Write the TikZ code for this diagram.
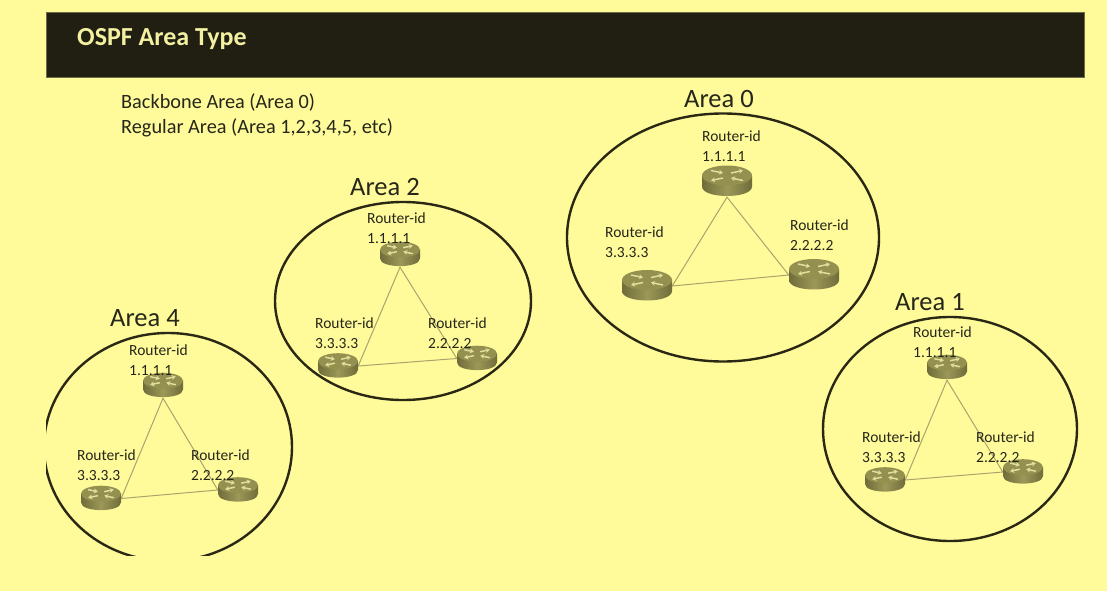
\documentclass[tikz,border=0pt]{standalone}
\usepackage{fontspec}
\setmainfont{Carlito}
\usetikzlibrary{arrows.meta}
\definecolor{bg}{HTML}{FFFB9A}
\definecolor{bar}{HTML}{201F12}
\definecolor{barline}{HTML}{6E6C44}
\definecolor{titletxt}{HTML}{F4F0A2}
\definecolor{txt}{HTML}{26261A}
\definecolor{ring}{HTML}{2A2814}
\definecolor{link}{HTML}{A8A46C}
\definecolor{rtop}{HTML}{939050}
\definecolor{rside}{HTML}{6F6C3A}
\definecolor{rmid}{HTML}{9C9858}
\definecolor{rmark}{HTML}{E2DE9C}
\tikzset{
  rtbig/.style={inner sep=0pt, minimum width=50pt, minimum height=31pt},
  rtsmall/.style={inner sep=0pt, minimum width=40pt, minimum height=25pt},
  area/.style={draw=ring, line width=2.4pt},
  arealabel/.style={font=\fontsize{26.5}{30}\selectfont, text=txt, anchor=west, inner sep=0pt},
  rid/.style={font=\fontsize{15.5}{20}\selectfont, text=txt, anchor=west, align=left, inner sep=0pt},
  linkline/.style={draw=link, line width=1pt},
  rtarrow/.style={rmark, line width=1.5pt, -{Stealth[length=4pt,width=5pt]}},
  router/.pic={
    \path[left color=rside, right color=rside, middle color=rmid]
      (-25,-6) -- (-25,5) .. controls (-25,17.67) and (25,17.67) .. (25,5) -- (25,-6) -- cycle;
    \fill[rtop] (0,-6) ellipse [x radius=25, y radius=10];
    \draw[rtarrow] (-16,-11) -- (-4,-8.5);
    \draw[rtarrow] (-4,-3.5) -- (-16,-1);
    \draw[rtarrow] (4,-8.5) -- (16,-11);
    \draw[rtarrow] (16,-1) -- (4,-3.5);
  }
}
\begin{document}
\begin{tikzpicture}[x=1pt,y=-1pt]
\useasboundingbox (0,0) rectangle (1107,591);
\fill[bg] (0,0) rectangle (1107,591);
% title bar
\node[draw=barline, fill=bar, line width=0.8pt, minimum width=1038pt, minimum height=65pt, inner sep=0pt, anchor=north west] (bar) at (46,12) {};
\node[font=\bfseries\fontsize{26}{30}\selectfont, text=titletxt, anchor=west, inner sep=0pt] (title) at (77,39) {OSPF Area Type};
\node[font=\fontsize{20.3}{25}\selectfont, text=txt, anchor=west, align=left, inner sep=0pt] (types) at (121,115.5) {Backbone Area (Area 0)\\Regular Area (Area 1,2,3,4,5, etc)};

% area ellipses
\draw[area] (723,237.5) ellipse [x radius=156, y radius=124];
\draw[area] (403,301) ellipse [x radius=128, y radius=99];
\draw[area] (950,429) ellipse [x radius=127, y radius=112];
\begin{scope}
\clip (46,0) rectangle (1107,555);
\draw[area] (168,447) ellipse [x radius=124, y radius=114];
\end{scope}

% area labels
\node[arealabel] (l0) at (684,99) {Area 0};
\node[arealabel] (l2) at (350,187) {Area 2};
\node[arealabel] (l4) at (110,318) {Area 4};
\node[arealabel] (l1) at (895,302) {Area 1};

% router placeholders
\node[rtbig] (a0t) at (727,181.5) {};
\node[rtbig] (a0l) at (647,286) {};
\node[rtbig] (a0r) at (814,275) {};
\node[rtsmall] (a2t) at (400,254.5) {};
\node[rtsmall] (a2l) at (338,366) {};
\node[rtsmall] (a2r) at (477,358.5) {};
\node[rtsmall] (a4t) at (163,385.5) {};
\node[rtsmall] (a4l) at (101,498.5) {};
\node[rtsmall] (a4r) at (238,490) {};
\node[rtsmall] (a1t) at (947,367.5) {};
\node[rtsmall] (a1l) at (885,480) {};
\node[rtsmall] (a1r) at (1023,472) {};

% links
\foreach \a in {a0,a2,a4,a1}{
  \draw[linkline] (\a t.south) -- (\a l.east) -- (\a r.west) -- cycle;
}

% router icons
\pic at (a0t.center) {router};
\pic at (a0l.center) {router};
\pic at (a0r.center) {router};
\foreach \n in {a2t,a2l,a2r,a4t,a4l,a4r,a1t,a1l,a1r}{
  \pic[scale=0.8] at (\n.center) {router};
}

% router-id labels
\node[rid] (t0t) at (702,146) {Router-id\\1.1.1.1};
\node[rid] (t0l) at (605,242.5) {Router-id\\3.3.3.3};
\node[rid] (t0r) at (790,235) {Router-id\\2.2.2.2};
\node[rid] (t2t) at (367,228) {Router-id\\1.1.1.1};
\node[rid] (t2l) at (315,333.5) {Router-id\\3.3.3.3};
\node[rid] (t2r) at (428,333.5) {Router-id\\2.2.2.2};
\node[rid] (t4t) at (129,360) {Router-id\\1.1.1.1};
\node[rid] (t4l) at (77,465.5) {Router-id\\3.3.3.3};
\node[rid] (t4r) at (191,465.5) {Router-id\\2.2.2.2};
\node[rid] (t1t) at (913,342.5) {Router-id\\1.1.1.1};
\node[rid] (t1l) at (862,447) {Router-id\\3.3.3.3};
\node[rid] (t1r) at (976,447) {Router-id\\2.2.2.2};
\end{tikzpicture}
\end{document}
